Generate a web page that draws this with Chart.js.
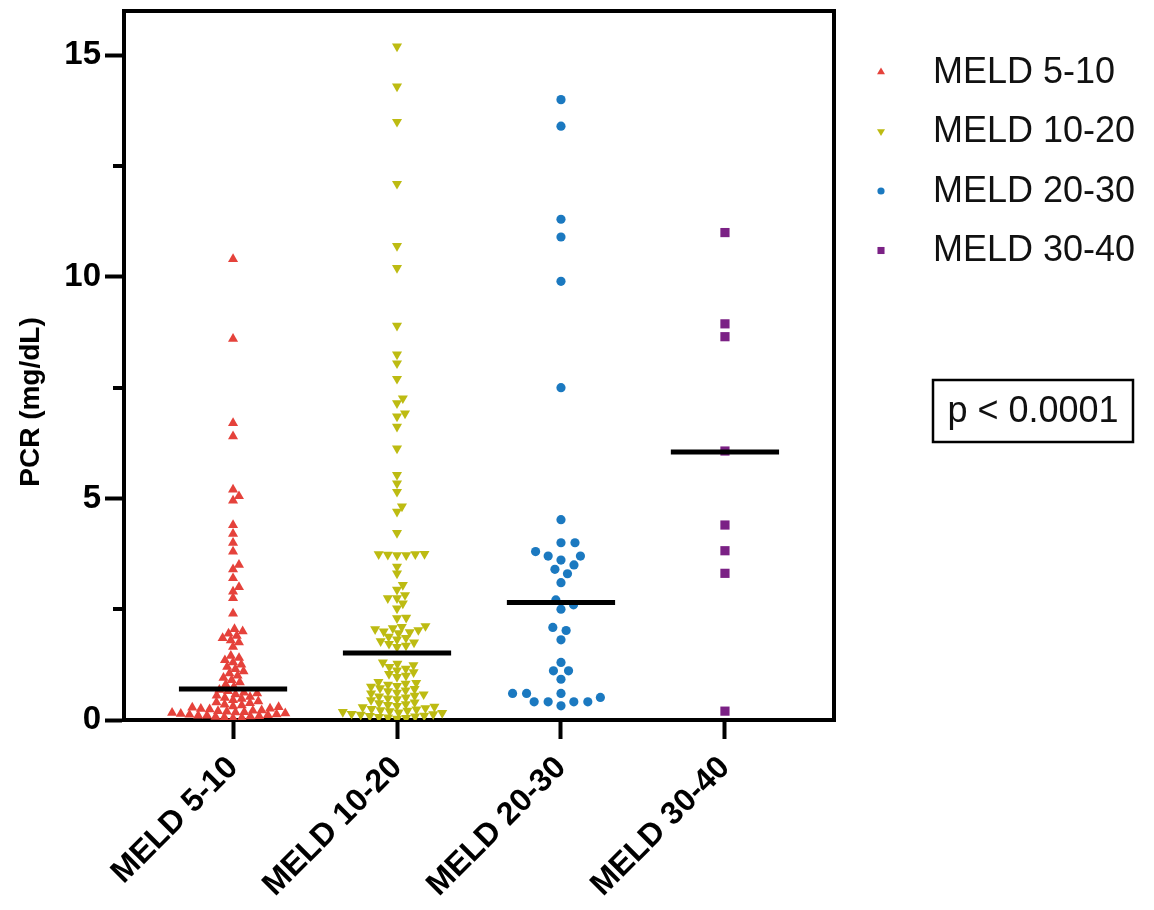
<!DOCTYPE html>
<html>
<head>
<meta charset="utf-8">
<script src="https://cdn.jsdelivr.net/npm/chart.js@4.4.1/dist/chart.umd.min.js"></script>
<style>
  html, body { margin: 0; padding: 0; background: #ffffff; }
  #wrap { width: 1154px; height: 910px; position: relative; }
</style>
</head>
<body>
<div id="wrap"><canvas id="c" width="1154" height="910"></canvas></div>
<script>
// PCR by MELD group (mg/dL)
const categories = ['MELD 5-10', 'MELD 10-20', 'MELD 20-30', 'MELD 30-40'];

const meld5_10 = [10.4, 8.6, 6.7, 6.4, 5.2, 5.05, 4.95, 4.4, 4.2, 4.0, 3.8, 3.5, 3.4, 3.2, 3.0, 2.9, 2.75, 2.4,
  2.05, 2.0, 1.95, 1.9, 1.85, 1.8, 1.75, 1.65,
  1.45, 1.4, 1.35, 1.3, 1.25, 1.2, 1.15, 1.1, 1.05,
  1.0, 0.95, 0.9, 0.85, 0.8, 0.75,
  0.68, 0.65, 0.62, 0.6, 0.58, 0.55, 0.52, 0.5, 0.48, 0.45, 0.42, 0.4, 0.38, 0.35, 0.33, 0.31,
  0.29, 0.28, 0.26, 0.25, 0.24, 0.22, 0.21, 0.2, 0.19, 0.18, 0.17, 0.16, 0.15, 0.14, 0.13, 0.12,
  0.11, 0.1, 0.1, 0.09, 0.08, 0.07, 0.06, 0.05, 0.04];

const meld10_20 = [15.2, 14.3, 13.5, 12.1, 10.7, 10.2, 8.9, 8.25, 8.05, 7.7, 7.26, 7.15, 6.92, 6.85, 6.62,
  6.13, 5.53, 5.34, 5.15, 4.82, 4.7, 4.22,
  3.75, 3.74, 3.74, 3.73, 3.72, 3.72, 3.46, 3.31, 3.05, 2.94, 2.82, 2.75, 2.75, 2.63, 2.52, 2.31, 2.3,
  2.12, 2.1, 2.07, 2.05, 2.03, 2.0, 1.98, 1.96,
  1.88, 1.85, 1.82, 1.78, 1.75, 1.72, 1.68, 1.65,
  1.3, 1.27, 1.24, 1.2, 1.16, 1.12, 1.08, 1.04, 1.0, 0.97,
  0.86, 0.84, 0.82, 0.8, 0.77, 0.75, 0.72, 0.7, 0.67, 0.65, 0.62, 0.6, 0.58, 0.55, 0.53, 0.51, 0.49, 0.47, 0.45,
  0.4, 0.38, 0.36, 0.34, 0.32, 0.3, 0.29, 0.27, 0.25, 0.24, 0.22, 0.21, 0.2, 0.18, 0.17, 0.16,
  0.14, 0.13, 0.12, 0.1, 0.09, 0.08, 0.07, 0.06, 0.05, 0.03];

const meld20_30 = [14.0, 13.4, 11.3, 10.9, 9.9, 7.5, 4.52, 4.0, 4.0, 3.8, 3.7, 3.7, 3.61, 3.5, 3.4, 3.3, 3.1,
  2.71, 2.6, 2.5, 2.09, 2.02, 1.81, 1.3, 1.11, 1.11, 0.92, 0.6, 0.6, 0.6, 0.51, 0.41, 0.41, 0.41, 0.41, 0.32];

const meld30_40 = [11.0, 8.94, 8.65, 6.07, 4.4, 3.82, 3.31, 0.2];

const medians = [0.70, 1.51, 2.65, 6.05];

const yMajorTicks = [0, 5, 10, 15];
const yMinorTicks = [2.5, 7.5, 12.5];
const pValueText = 'p < 0.0001';

const FONT = "'Liberation Sans', Arial, Helvetica, sans-serif";

// sx / sy: minimum horizontal / vertical clearance between neighbouring markers (px)
const groups = [
  { label: categories[0], values: meld5_10,  color: '#E5423B', style: 'triangle', rotation: 0,   radius: 5.8, sx: 8.8, sy: 6 },
  { label: categories[1], values: meld10_20, color: '#BDBB12', style: 'triangle', rotation: 180, radius: 5.8, sx: 9.2, sy: 6.3 },
  { label: categories[2], values: meld20_30, color: '#1B79C0', style: 'circle',   rotation: 0,   radius: 4.6, sx: 14,  sy: 10 },
  { label: categories[3], values: meld30_40, color: '#7B2185', style: 'rect',     rotation: 0,   radius: 6.5, sx: 11,  sy: 9 }
];

const MEDIAN_HALF = 0.33; // half length of the median bar, in category units

const datasets = [];
medians.forEach((m, i) => {
  datasets.push({
    type: 'line',
    label: 'median ' + categories[i],
    data: [{ x: i + 1 - MEDIAN_HALF, y: m }, { x: i + 1 + MEDIAN_HALF, y: m }],
    borderColor: '#000000',
    borderWidth: 5,
    borderCapStyle: 'butt',
    pointRadius: 0,
    order: -1
  });
});
groups.forEach((g, i) => {
  datasets.push({
    type: 'scatter',
    label: g.label,
    data: g.values.map(v => ({ x: i + 1, y: v })),
    backgroundColor: g.color,
    borderColor: g.color,
    borderWidth: 0,
    pointStyle: g.style,
    pointRotation: g.rotation,
    pointRadius: g.radius,
    pointHoverRadius: g.radius,
    order: 1
  });
});

// Top and right frame lines, minor y ticks, y title, legend and the p-value box
const decorations = {
  id: 'decorations',
  afterDraw(chart) {
    const { ctx, chartArea: a, scales } = chart;
    ctx.save();
    ctx.strokeStyle = '#000';
    ctx.lineWidth = 4;
    ctx.beginPath();
    ctx.moveTo(a.left - 2, a.top);
    ctx.lineTo(a.right, a.top);
    ctx.lineTo(a.right, a.bottom + 2);
    ctx.stroke();

    // minor ticks
    yMinorTicks.forEach(v => {
      const py = Math.round(scales.y.getPixelForValue(v));
      ctx.beginPath();
      ctx.moveTo(a.left - 11, py);
      ctx.lineTo(a.left, py);
      ctx.stroke();
    });

    // y title
    ctx.fillStyle = '#000';
    ctx.font = 'bold 28px ' + FONT;
    ctx.textAlign = 'center';
    ctx.textBaseline = 'middle';
    ctx.translate(31, 402);
    ctx.rotate(-Math.PI / 2);
    ctx.fillText('PCR (mg/dL)', 0, 0);
    ctx.restore();

    // legend
    ctx.save();
    const lx = a.right + 47, tx = a.right + 99, ly0 = 72, lstep = 59.5;
    groups.forEach((g, i) => {
      const y = ly0 + i * lstep;
      ctx.fillStyle = g.color;
      ctx.strokeStyle = g.color;
      Chart.helpers.drawPoint(ctx, {
        pointStyle: g.style,
        rotation: g.rotation,
        radius: g.style === 'circle' ? 3.6 : (g.style === 'rect' ? 5 : 4.6),
        borderWidth: 0
      }, lx, y);
      ctx.fillStyle = '#111';
      ctx.font = '36px ' + FONT;
      ctx.textAlign = 'left';
      ctx.textBaseline = 'middle';
      ctx.fillText(g.label, tx, y + 1);
    });

    // p-value box
    ctx.strokeStyle = '#000';
    ctx.lineWidth = 2.5;
    ctx.strokeRect(a.right + 99, 380, 200, 62);
    ctx.fillStyle = '#111';
    ctx.font = '36px ' + FONT;
    ctx.textAlign = 'center';
    ctx.textBaseline = 'middle';
    ctx.fillText(pValueText, a.right + 199, 412);
    ctx.restore();
  }
};

const chart = new Chart(document.getElementById('c'), {
  data: { datasets },
  options: {
    responsive: false,
    animation: false,
    events: [],
    layout: { padding: { left: 0, right: 320, top: 11, bottom: 0 } },
    plugins: { legend: { display: false }, tooltip: { enabled: false } },
    scales: {
      x: {
        type: 'linear',
        min: 0.335,
        max: 4.665,
        z: 1,
        afterBuildTicks: s => { s.ticks = categories.map((_, i) => ({ value: i + 1 })); },
        afterFit: s => { s.height = 190; s.paddingLeft = 0; s.paddingRight = 0; },
        ticks: {
          autoSkip: false,
          maxRotation: 45,
          minRotation: 45,
          padding: 10,
          color: '#000',
          font: { family: FONT, size: 32, weight: 'bold' },
          callback: v => categories[Math.round(v) - 1] || ''
        },
        grid: { drawOnChartArea: false, tickLength: 19, tickWidth: 4, tickColor: '#000' },
        border: { color: '#000', width: 4 }
      },
      y: {
        type: 'linear',
        min: 0,
        max: 16,
        z: 1,
        afterBuildTicks: s => { s.ticks = yMajorTicks.map(v => ({ value: v })); },
        afterFit: s => { s.width = 124; s.paddingTop = 0; s.paddingBottom = 0; },
        ticks: {
          padding: 4,
          color: '#000',
          font: { family: FONT, size: 33, weight: 'bold' }
        },
        grid: { drawOnChartArea: false, tickLength: 19, tickWidth: 4, tickColor: '#000' },
        border: { color: '#000', width: 4 }
      }
    }
  },
  plugins: [decorations]
});

// Spread each group's points sideways so that markers do not overlap (beeswarm)
function swarmOffsets(values, yScale, sx, sy) {
  const order = values.map((_, i) => i).sort((a, b) => values[a] - values[b]);
  const placed = [];
  const offs = new Array(values.length).fill(0);
  order.forEach(i => {
    const py = yScale.getPixelForValue(values[i]);
    const blocks = [];
    placed.forEach(p => {
      const dy = Math.abs(p.y - py);
      if (dy < sy) {
        const w = sx * Math.sqrt(1 - (dy / sy) * (dy / sy));
        blocks.push([p.x - w, p.x + w]);
      }
    });
    const cands = [0];
    blocks.forEach(b => { cands.push(b[1], b[0]); });
    cands.sort((a, b) => Math.abs(a) - Math.abs(b));
    let best = 0;
    for (const c of cands) {
      if (blocks.every(b => c <= b[0] + 1e-6 || c >= b[1] - 1e-6)) { best = c; break; }
    }
    placed.push({ x: best, y: py });
    offs[i] = best;
  });
  return offs;
}

const xs = chart.scales.x, ys = chart.scales.y;
const pxPerUnit = xs.getPixelForValue(2) - xs.getPixelForValue(1);
groups.forEach((g, gi) => {
  const ds = chart.data.datasets[medians.length + gi];
  const offs = swarmOffsets(g.values, ys, g.sx, g.sy);
  ds.data = g.values.map((v, k) => ({ x: gi + 1 + offs[k] / pxPerUnit, y: v }));
});
chart.update('none');
</script>
</body>
</html>
